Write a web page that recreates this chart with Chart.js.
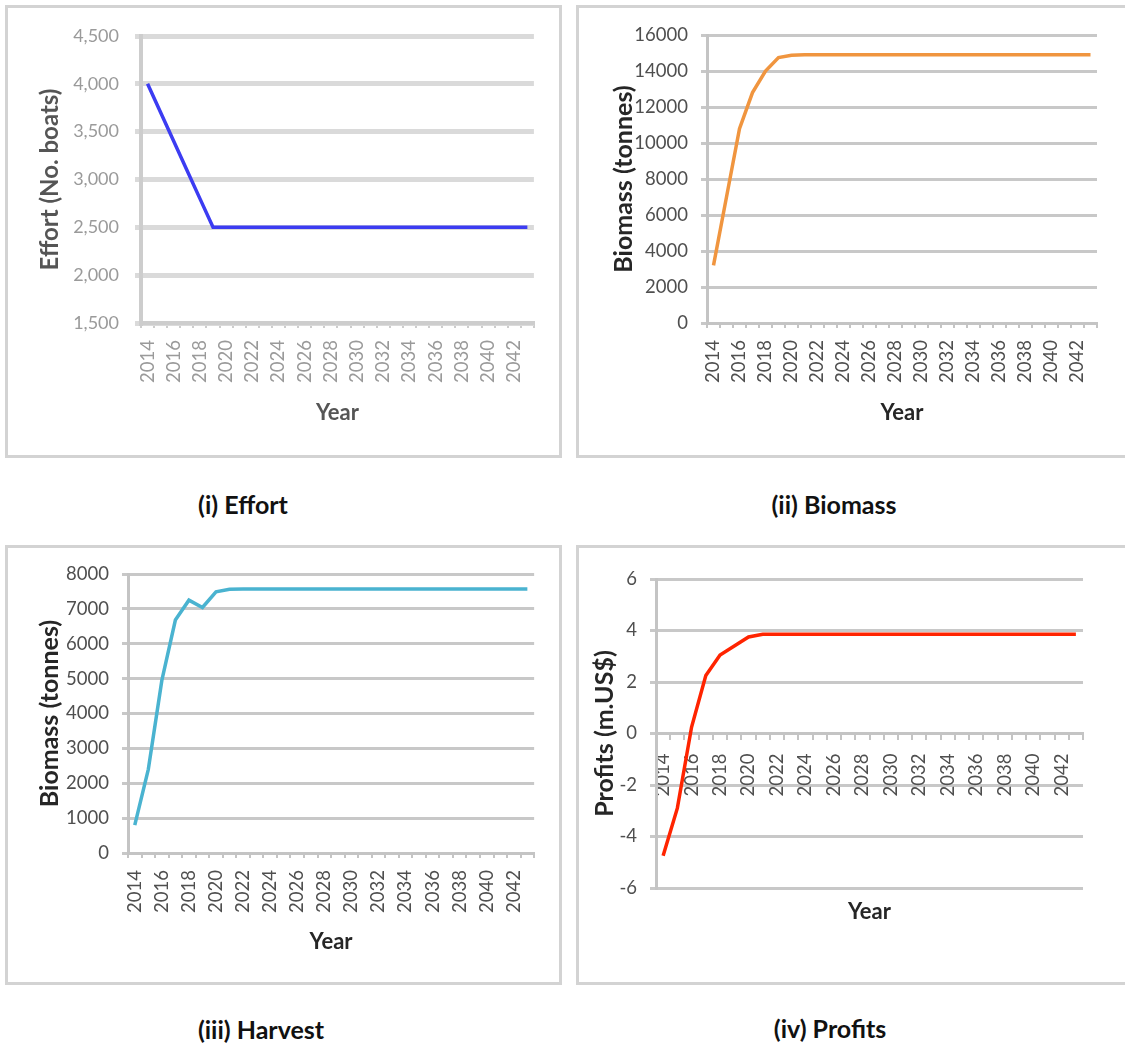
<!DOCTYPE html>
<html>
<head>
<meta charset="utf-8">
<script src="https://cdn.jsdelivr.net/npm/chart.js@4.4.1/dist/chart.umd.min.js"></script>
<style>
  html, body { margin: 0; padding: 0; background: #fff; overflow: hidden; }
  #page { position: relative; width: 1125px; height: 1044px; overflow: hidden; }
  .box { position: absolute; border: 3px solid #d3d3d3; box-sizing: border-box; }
  canvas { position: absolute; }
  .cap { position: absolute; font: bold 25px Lato, sans-serif; color: #111; transform: translate(-50%, -50%); white-space: nowrap; }
</style>
</head>
<body>
<div id="page">
  <div class="box" style="left:5px;top:5px;width:557px;height:453px"></div>
  <div class="box" style="left:576px;top:5px;width:555px;height:453px"></div>
  <div class="box" style="left:5px;top:545px;width:557px;height:440px"></div>
  <div class="box" style="left:576px;top:545px;width:555px;height:440px"></div>

  <canvas id="effort"></canvas>
  <canvas id="biomass"></canvas>
  <canvas id="harvest"></canvas>
  <canvas id="profits"></canvas>

  <div class="cap" style="left:243px;top:504px">(i) Effort</div>
  <div class="cap" style="left:834px;top:504px">(ii) Biomass</div>
  <div class="cap" style="left:261px;top:1029px">(iii) Harvest</div>
  <div class="cap" style="left:830px;top:1028px">(iv) Profits</div>
</div>

<script>
// categories
var years = ['2014', '2015', '2016', '2017', '2018', '2019', '2020', '2021', '2022', '2023',
             '2024', '2025', '2026', '2027', '2028', '2029', '2030', '2031', '2032', '2033',
             '2034', '2035', '2036', '2037', '2038', '2039', '2040', '2041', '2042', '2043'];
var yearLabels = ['2014', '2016', '2018', '2020', '2022', '2024', '2026', '2028',
                  '2030', '2032', '2034', '2036', '2038', '2040', '2042'];

// series
var effortBoats = [4000, 3700, 3400, 3100, 2800, 2500, 2500, 2500, 2500, 2500,
                   2500, 2500, 2500, 2500, 2500, 2500, 2500, 2500, 2500, 2500,
                   2500, 2500, 2500, 2500, 2500, 2500, 2500, 2500, 2500, 2500];
var biomassTonnes = [3200, 7000, 10800, 12800, 14000, 14750, 14880, 14900, 14900, 14900,
                     14900, 14900, 14900, 14900, 14900, 14900, 14900, 14900, 14900, 14900,
                     14900, 14900, 14900, 14900, 14900, 14900, 14900, 14900, 14900, 14900];
var harvestTonnes = [800, 2400, 4950, 6680, 7250, 7040, 7490, 7560, 7570, 7570,
                     7570, 7570, 7570, 7570, 7570, 7570, 7570, 7570, 7570, 7570,
                     7570, 7570, 7570, 7570, 7570, 7570, 7570, 7570, 7570, 7570];
var profitsMUSD = [-4.75, -2.9, 0.25, 2.25, 3.05, 3.4, 3.75, 3.85, 3.85, 3.85,
                   3.85, 3.85, 3.85, 3.85, 3.85, 3.85, 3.85, 3.85, 3.85, 3.85,
                   3.85, 3.85, 3.85, 3.85, 3.85, 3.85, 3.85, 3.85, 3.85, 3.85];

// y tick labels
var effortTicks = [1500, 2000, 2500, 3000, 3500, 4000, 4500];
var biomassTicks = [0, 2000, 4000, 6000, 8000, 10000, 12000, 14000, 16000];
var harvestTicks = [0, 1000, 2000, 3000, 4000, 5000, 6000, 7000, 8000];
var profitsTicks = [-6, -4, -2, 0, 2, 4, 6];

var excelLook = {
  tickColor: '#4f4f4f', yTickSize: 18.5, xTickSize: 18.5, yTickPad: 13, xTickPad: 12,
  titleColor: '#262626', yTitleSize: 25, xTitleSize: 22,
  gridColor: '#c8c8c8', gridWidth: 3, axisColor: '#c4c4c4', axisWidth: 3, lineWidth: 3.5
};
// panel (i) is a blurry, low resolution copy: lighter text, fatter grid
var blurLook = {
  tickColor: '#9a9a9a', yTickSize: 18, xTickSize: 18.5, yTickPad: 16, xTickPad: 12,
  titleColor: '#555555', yTitleSize: 24, xTitleSize: 22,
  gridColor: '#dadada', gridWidth: 5, axisColor: '#cdcdcd', axisWidth: 4, lineWidth: 3.5
};

function build(id, box, plot, yTitleX, xTitleY, values, color, yTickVals, yTitle, fmt, look, zeroAxis) {
  var padL = yTitleX - box.l - 0.6 * look.yTitleSize;
  var padT = plot.t - box.t;
  var padR = box.l + box.w - plot.r;
  var axisBottom = xTitleY + 0.6 * look.xTitleSize;
  var padB = box.t + box.h - axisBottom;
  var yWidth = plot.l - box.l - padL;
  var xHeight = axisBottom - plot.b;

  var cv = document.getElementById(id);
  cv.width = box.w;
  cv.height = box.h;
  cv.style.left = box.l + 'px';
  cv.style.top = box.t + 'px';

  var xTitle = {
    display: true, text: 'Year', color: look.titleColor, padding: 0,
    font: { family: 'Lato', size: look.xTitleSize, weight: 'bold' }
  };

  var scales = {
    x: {
      type: 'category',
      offset: true,
      grid: { display: true, offset: true, drawOnChartArea: false, drawTicks: true, tickLength: 5, color: look.axisColor, lineWidth: 2 },
      border: { display: true, color: look.axisColor, width: look.axisWidth },
      ticks: {
        autoSkip: false, maxRotation: 90, minRotation: 90,
        padding: zeroAxis ? look.xTickPad + 3 : look.xTickPad,
        color: look.tickColor, font: { family: 'Lato', size: look.xTickSize },
        callback: function (v) {
          var lab = this.getLabelForValue(v);
          return yearLabels.indexOf(lab) >= 0 ? lab : '';
        }
      },
      title: zeroAxis ? { display: false } : xTitle
    },
    y: {
      min: yTickVals[0],
      max: yTickVals[yTickVals.length - 1],
      afterBuildTicks: function (s) {
        s.ticks = yTickVals.map(function (v) { return { value: v }; });
      },
      grid: { color: look.gridColor, lineWidth: look.gridWidth, drawTicks: true, tickLength: 6 },
      border: { display: true, color: look.axisColor, width: look.axisWidth },
      ticks: { padding: look.yTickPad, color: look.tickColor, font: { family: 'Lato', size: look.yTickSize }, callback: fmt },
      title: {
        display: true, text: yTitle, color: look.titleColor, padding: 0,
        font: { family: 'Lato', size: look.yTitleSize, weight: 'bold' }
      },
      afterFit: function (s) { s.width = yWidth; }
    }
  };

  if (zeroAxis) {
    // x axis crosses at 0, the "Year" title stays under the plot
    scales.x.position = { y: 0 };
    scales.x2 = {
      type: 'linear', position: 'bottom', min: 0, max: 1,
      ticks: { display: false }, grid: { display: false }, border: { display: false },
      title: xTitle,
      afterFit: function (s) { s.height = xHeight; }
    };
  } else {
    scales.x.afterFit = function (s) { s.height = xHeight; };
  }

  return new Chart(cv, {
    type: 'line',
    data: {
      labels: years,
      datasets: [{
        data: values,
        borderColor: color,
        borderWidth: look.lineWidth,
        pointRadius: 0,
        tension: 0,
        fill: false
      }]
    },
    options: {
      responsive: false,
      animation: false,
      layout: { padding: { left: padL, top: padT, right: padR, bottom: padB } },
      plugins: { legend: { display: false }, tooltip: { enabled: false }, title: { display: false } },
      scales: scales
    }
  });
}

function plain(v) { return String(v); }
function comma(v) { return Number(v).toLocaleString('en-US'); }

build('effort', { l: 5, t: 5, w: 557, h: 453 }, { l: 141, t: 36, r: 536, b: 323 }, 50, 413,
  effortBoats, '#3c3cf2', effortTicks, 'Effort (No. boats)', comma, blurLook, false);

build('biomass', { l: 576, t: 5, w: 549, h: 453 }, { l: 707, t: 35, r: 1107, b: 323 }, 624, 413,
  biomassTonnes, '#f0953f', biomassTicks, 'Biomass (tonnes)', plain, excelLook, false);

build('harvest', { l: 5, t: 545, w: 557, h: 440 }, { l: 128, t: 574, r: 536, b: 853 }, 50, 942,
  harvestTonnes, '#4ab3d0', harvestTicks, 'Biomass (tonnes)', plain, excelLook, false);

build('profits', { l: 576, t: 545, w: 549, h: 440 }, { l: 656, t: 579, r: 1083, b: 888 }, 605, 912,
  profitsMUSD, '#ff2400', profitsTicks, 'Profits (m.US$)', plain, excelLook, true);
</script>
</body>
</html>
